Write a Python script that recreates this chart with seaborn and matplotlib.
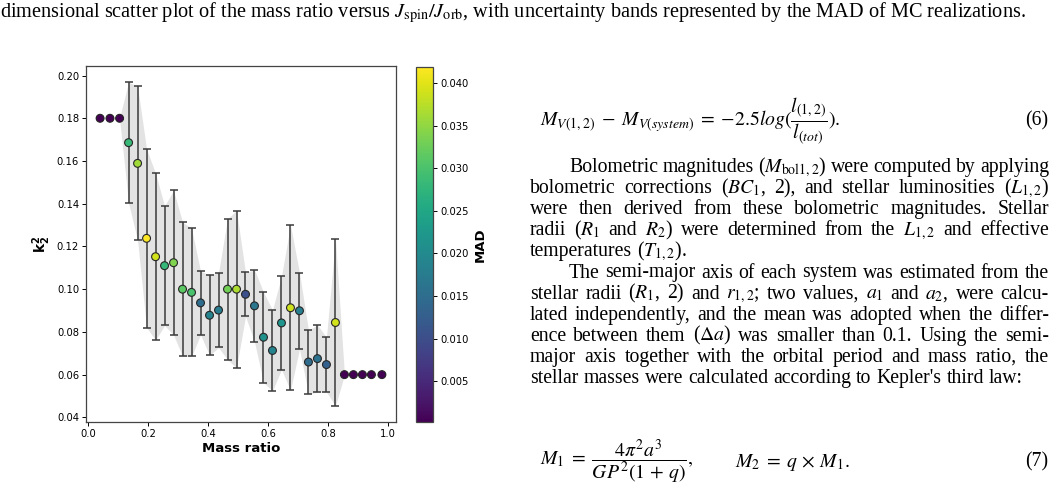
import numpy as np
import pandas as pd
import seaborn as sns
import matplotlib.pyplot as plt
from matplotlib.colors import Normalize
from matplotlib.cm import ScalarMappable

# Binned values
mass_ratio = [0.040, 0.073, 0.105, 0.135, 0.165, 0.195, 0.225, 0.255, 0.285, 0.315,
              0.345, 0.375, 0.405, 0.435, 0.465, 0.495, 0.525, 0.555, 0.585, 0.615,
              0.645, 0.675, 0.705, 0.735, 0.765, 0.795, 0.825, 0.855, 0.885, 0.915,
              0.945, 0.980]
k2 = [0.180, 0.180, 0.180, 0.1686, 0.1589, 0.1238, 0.1152, 0.1110, 0.1124, 0.1000,
      0.0985, 0.0936, 0.0878, 0.0902, 0.1000, 0.1000, 0.0976, 0.0922, 0.0775, 0.0713,
      0.0842, 0.0913, 0.0899, 0.0659, 0.0675, 0.0647, 0.0844, 0.060, 0.060, 0.060,
      0.060, 0.060]
mad = [0.0002, 0.0002, 0.0002, 0.0283, 0.0360, 0.0418, 0.0390, 0.0280, 0.0338, 0.0314,
       0.0300, 0.0149, 0.0188, 0.0175, 0.0330, 0.0368, 0.0103, 0.0168, 0.0212, 0.0189,
       0.0218, 0.0387, 0.0179, 0.0148, 0.0158, 0.0128, 0.0390, 0.0002, 0.0002, 0.0002,
       0.0002, 0.0002]

df = pd.DataFrame({"q": mass_ratio, "k2": k2, "mad": mad})

W, H = 1057, 486
fig = plt.figure(figsize=(W / 100, H / 100), dpi=100)


def box(x0, y0, x1, y1):
    # pixel box (from top-left) -> figure fraction
    return [x0 / W, 1 - y1 / H, (x1 - x0) / W, (y1 - y0) / H]


ax = fig.add_axes(box(86, 66, 396, 422))
cax = fig.add_axes(box(416, 67, 433, 422))

norm = Normalize(vmin=min(mad), vmax=0.0419)
lo = df["k2"] - df["mad"]
hi = df["k2"] + df["mad"]
ax.fill_between(df["q"], lo, hi, color="#dedede", alpha=0.85, lw=0, zorder=1)
ax.errorbar(df["q"], df["k2"], yerr=df["mad"], fmt="none", ecolor="#3a3a3a",
            elinewidth=1.1, capsize=2.6, capthick=1.1, zorder=2)
sns.scatterplot(data=df, x="q", y="k2", hue="mad", palette="viridis", hue_norm=norm,
                s=32, edgecolor="#262626", linewidth=0.8, legend=False, zorder=3, ax=ax)

ax.set_xticks([0.0, 0.2, 0.4, 0.6, 0.8, 1.0])
ax.set_yticks([0.04, 0.06, 0.08, 0.10, 0.12, 0.14, 0.16, 0.18, 0.20])
ax.set_xlabel("Mass ratio", fontsize=9.5, fontweight="bold", labelpad=2)
ax.set_ylabel(r"$\mathbf{k}_\mathbf{2}^\mathbf{2}$", fontsize=10, labelpad=3)
ax.tick_params(labelsize=7.2, length=3, width=0.7, pad=2)
for s in ax.spines.values():
    s.set_linewidth(0.9)
    s.set_color("#444444")

cbar = fig.colorbar(ScalarMappable(norm=norm, cmap="viridis"), cax=cax)
cbar.set_ticks([0.005, 0.010, 0.015, 0.020, 0.025, 0.030, 0.035, 0.040])
cbar.ax.tick_params(labelsize=7.2, length=3, width=0.7, pad=2)
cbar.set_label("MAD", fontsize=9.5, fontweight="bold", labelpad=4)
cbar.outline.set_linewidth(0.9)
cbar.outline.set_edgecolor("#444444")

# ---- surrounding page text ----
serif = "Liberation Serif"
fs = 14.2
tkw = dict(family=serif, math_fontfamily="stix")


def tokens(line):
    out, cur, inmath = [], "", False
    for ch in line:
        if ch == "$":
            inmath = not inmath
        if ch == " " and not inmath:
            out.append(cur)
            cur = ""
        else:
            cur += ch
    out.append(cur)
    return out


def put_line(line, x0, x1, yb, justify=True):
    words = tokens(line)
    ts = [fig.text(0, 1 - yb / H, w, fontsize=fs, va="baseline", **tkw) for w in words]
    r = fig.canvas.get_renderer()
    widths = [t.get_window_extent(r).width for t in ts]
    a = fig.text(0, 0, "a a", fontsize=fs, **tkw).get_window_extent(r).width
    b = fig.text(0, 0, "aa", fontsize=fs, **tkw).get_window_extent(r).width
    fig.texts = fig.texts[:-2]
    if justify and len(words) > 1:
        gap = (x1 - x0 - sum(widths)) / (len(words) - 1)
    else:
        gap = a - b
    x = x0
    for t, w in zip(ts, widths):
        t.set_x(x / W)
        x += w + gap


fig.text(0 / W, 1 - 17 / H,
         r"dimensional scatter plot of the mass ratio versus $J_{\rm spin}/J_{\rm orb}$, with uncertainty "
         r"bands represented by the MAD of MC realizations.",
         fontsize=14.6, va="baseline", **tkw)

fig.text(540 / W, 1 - 121 / H,
         r"$M_{V(1,2)}\;-\;M_{V(system)}\;=\;{-}2.5log(\dfrac{l_{(1,2)}}{l_{(tot)}}).$",
         fontsize=fs, va="center", **tkw)
fig.text(1048 / W, 1 - 121 / H, "(6)", fontsize=fs, va="center", ha="right", **tkw)

para = [
    (r"Bolometric magnitudes ($M_{\rm bol1,2}$) were computed by applying", 569, True),
    (r"bolometric corrections ($BC_1$, 2), and stellar luminosities ($L_{1,2}$)", 530, True),
    (r"were then derived from these bolometric magnitudes. Stellar", 530, True),
    (r"radii ($R_1$ and $R_2$) were determined from the $L_{1,2}$ and effective", 530, True),
    (r"temperatures ($T_{1,2}$).", 530, False),
    (r"The semi-major axis of each system was estimated from the", 569, True),
    (r"stellar radii ($R_1$, 2) and $r_{1,2}$; two values, $a_1$ and $a_2$, were calcu-", 530, True),
    (r"lated independently, and the mean was adopted when the differ-", 530, True),
    (r"ence between them ($\Delta a$) was smaller than 0.1. Using the semi-", 530, True),
    (r"major axis together with the orbital period and mass ratio, the", 530, True),
    (r"stellar masses were calculated according to Kepler's third law:", 530, False),
]
for i, (txt, x0, just) in enumerate(para):
    put_line(txt, x0, 1049, 172 + 21.1 * i, just)

fig.text(540 / W, 1 - 462 / H, r"$M_1\;=\;\dfrac{4\pi^2a^3}{GP^2(1\,+\,q)},$",
         fontsize=fs, va="center", **tkw)
fig.text(735 / W, 1 - 462 / H, r"$M_2\;=\;q\,\times\,M_1.$",
         fontsize=fs, va="center", **tkw)
fig.text(1048 / W, 1 - 462 / H, "(7)", fontsize=fs, va="center", ha="right", **tkw)

fig.savefig("out.png", dpi=100)
